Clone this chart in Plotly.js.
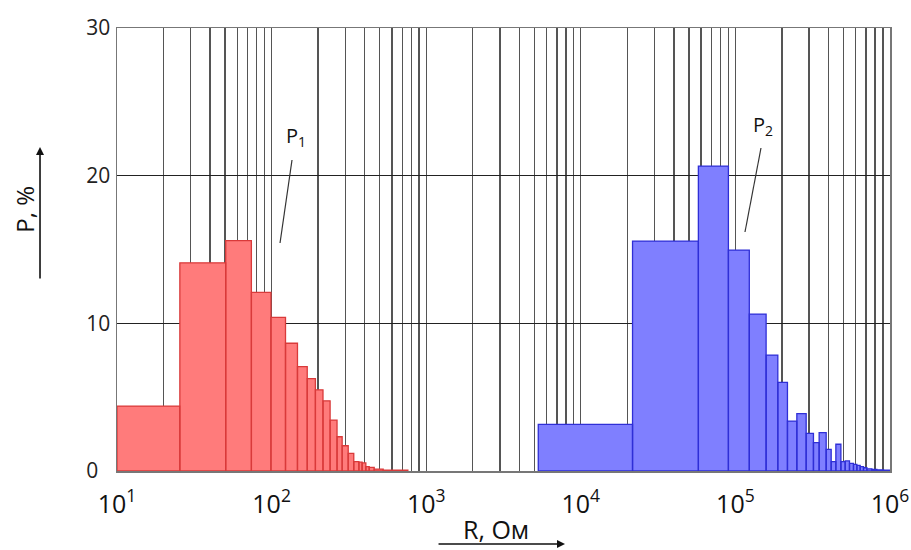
<!DOCTYPE html>
<html>
<head>
<meta charset="utf-8">
<script src="https://cdn.plot.ly/plotly-3.0.1.min.js"></script>
<style>html,body{margin:0;padding:0;background:#fff;}#chart{width:911px;height:550px;}</style>
</head>
<body>
<div id="chart"></div>
<script>
// P1 histogram: bin edges (R, Ohm) and heights (P, %)
const p1Edges = [10, 25.5, 50.5, 74, 99, 123, 147, 170, 192, 215, 239, 265, 286, 313, 340, 367, 385, 407, 428, 461, 527, 761];
const p1Values = [4.4, 14.1, 15.6, 12.1, 10.4, 8.65, 7.07, 6.26, 5.5, 4.75, 3.45, 2.32, 1.71, 1.2, 0.63, 0.6, 0.55, 0.3, 0.25, 0.13, 0.05];

// P2 histogram
const p2Edges = [5308, 21610, 57610, 90100, 123000, 158000, 188100, 217100, 249700, 286900, 319800, 348100, 386500, 416400, 446500, 481200, 512900, 546900, 580500, 610600, 641500, 673900, 708900, 763500, 822800, 907800, 1000000];
const p2Values = [3.16, 15.57, 20.65, 14.96, 10.63, 7.85, 6.0, 3.38, 3.88, 2.55, 1.92, 2.6, 1.47, 0.63, 1.81, 0.63, 0.68, 0.52, 0.45, 0.38, 0.3, 0.22, 0.15, 0.1, 0.08, 0.05];

// Axis ticks
const yTicks = [0, 10, 20, 30];
const yTickLabels = ['0\u2007', '10', '20', '30'];
const xMajor = [10, 100, 1000, 10000, 100000, 1000000];
const xMajorLabels = ['10<sup>1</sup>', '10<sup>2</sup>', '10<sup>3</sup>', '10<sup>4</sup>', '10<sup>5</sup>', '10<sup>6</sup>'];
const minorDigits = [2, 3, 4, 5, 6, 7, 8, 9];

const xTickVals = [], xTickText = [];
xMajor.forEach((v, i) => {
  xTickVals.push(v); xTickText.push(xMajorLabels[i]);
  if (i < xMajor.length - 1) minorDigits.forEach(d => { xTickVals.push(v * d); xTickText.push(''); });
});

function rects(edges, vals) {
  const xs = [], ys = [];
  for (let i = 0; i < vals.length; i++) {
    xs.push(edges[i], edges[i], edges[i + 1], edges[i + 1], edges[i], null);
    ys.push(0, vals[i], vals[i], 0, 0, null);
  }
  return {xs, ys};
}
const r1 = rects(p1Edges, p1Values);
const r2 = rects(p2Edges, p2Values);

const FONT = '"Open Sans", "DejaVu Sans", sans-serif';

const traces = [
  {x: r1.xs, y: r1.ys, type: 'scatter', mode: 'lines', fill: 'toself',
   fillcolor: '#ff7b7b', line: {color: '#d93a3a', width: 1.3}, hoverinfo: 'skip', showlegend: false},
  {x: r2.xs, y: r2.ys, type: 'scatter', mode: 'lines', fill: 'toself',
   fillcolor: '#7f7fff', line: {color: '#2f2fd6', width: 1.3}, hoverinfo: 'skip', showlegend: false}
];

const layout = {
  width: 911, height: 550,
  margin: {l: 117, r: 21, t: 28, b: 79},
  paper_bgcolor: '#fff', plot_bgcolor: '#fff',
  font: {family: FONT, color: '#111'},
  showlegend: false,
  xaxis: {
    type: 'log', range: [1, 6],
    tickmode: 'array', tickvals: xTickVals, ticktext: xTickText,
    ticks: '', tickfont: {size: 25, color: '#111'}, ticklabelstandoff: 10,
    showgrid: true, gridcolor: '#555', gridwidth: 1.4,
    showline: true, mirror: true, linecolor: '#777', linewidth: 1.5,
    zeroline: false, fixedrange: true
  },
  yaxis: {
    range: [0, 30], tickmode: 'array', tickvals: yTicks, ticktext: yTickLabels,
    ticks: '', tickfont: {size: 21, color: '#222'},
    showgrid: true, gridcolor: '#222', gridwidth: 1,
    showline: true, mirror: true, linecolor: '#777', linewidth: 1.5,
    zeroline: false, fixedrange: true, ticklabelstandoff: 1
  },
  annotations: [
    {xref: 'paper', yref: 'paper', x: 0.2316, y: 0.7562, text: 'P<sub>1</sub>', showarrow: false,
     xanchor: 'center', yanchor: 'middle', font: {size: 20, color: '#111'}},
    {xref: 'paper', yref: 'paper', x: 0.8357, y: 0.7788, text: 'P<sub>2</sub>', showarrow: false,
     xanchor: 'center', yanchor: 'middle', font: {size: 20, color: '#111'}},
    {xref: 'paper', yref: 'paper', x: 0.4903, y: -0.132, text: 'R, Ом', showarrow: false,
     xanchor: 'center', yanchor: 'middle', font: {size: 25, color: '#111'}},
    {xref: 'paper', yref: 'paper', x: -0.119, y: 0.59, text: 'P, %', showarrow: false, textangle: -90,
     xanchor: 'center', yanchor: 'middle', font: {size: 24, color: '#111'}},
    {xref: 'paper', yref: 'paper', x: 0.5796, y: -0.1648, text: '', showarrow: true,
     ax: -128, ay: 0, arrowhead: 2, arrowsize: 1, arrowwidth: 1.6, arrowcolor: '#111', standoff: 0},
    {xref: 'paper', yref: 'paper', x: -0.0996, y: 0.7314, text: '', showarrow: true,
     ax: 0, ay: 133, arrowhead: 2, arrowsize: 1, arrowwidth: 1.6, arrowcolor: '#111', standoff: 0}
  ],
  shapes: [
    {type: 'line', xref: 'paper', yref: 'paper', x0: 0.2264, y0: 0.702, x1: 0.2109, y1: 0.5147,
     line: {color: '#333', width: 1.2}},
    {type: 'line', xref: 'paper', yref: 'paper', x0: 0.8331, y0: 0.7291, x1: 0.8124, y1: 0.5395,
     line: {color: '#333', width: 1.2}}
  ]
};

Plotly.newPlot('chart', traces, layout, {staticPlot: true, displayModeBar: false});
</script>
</body>
</html>
